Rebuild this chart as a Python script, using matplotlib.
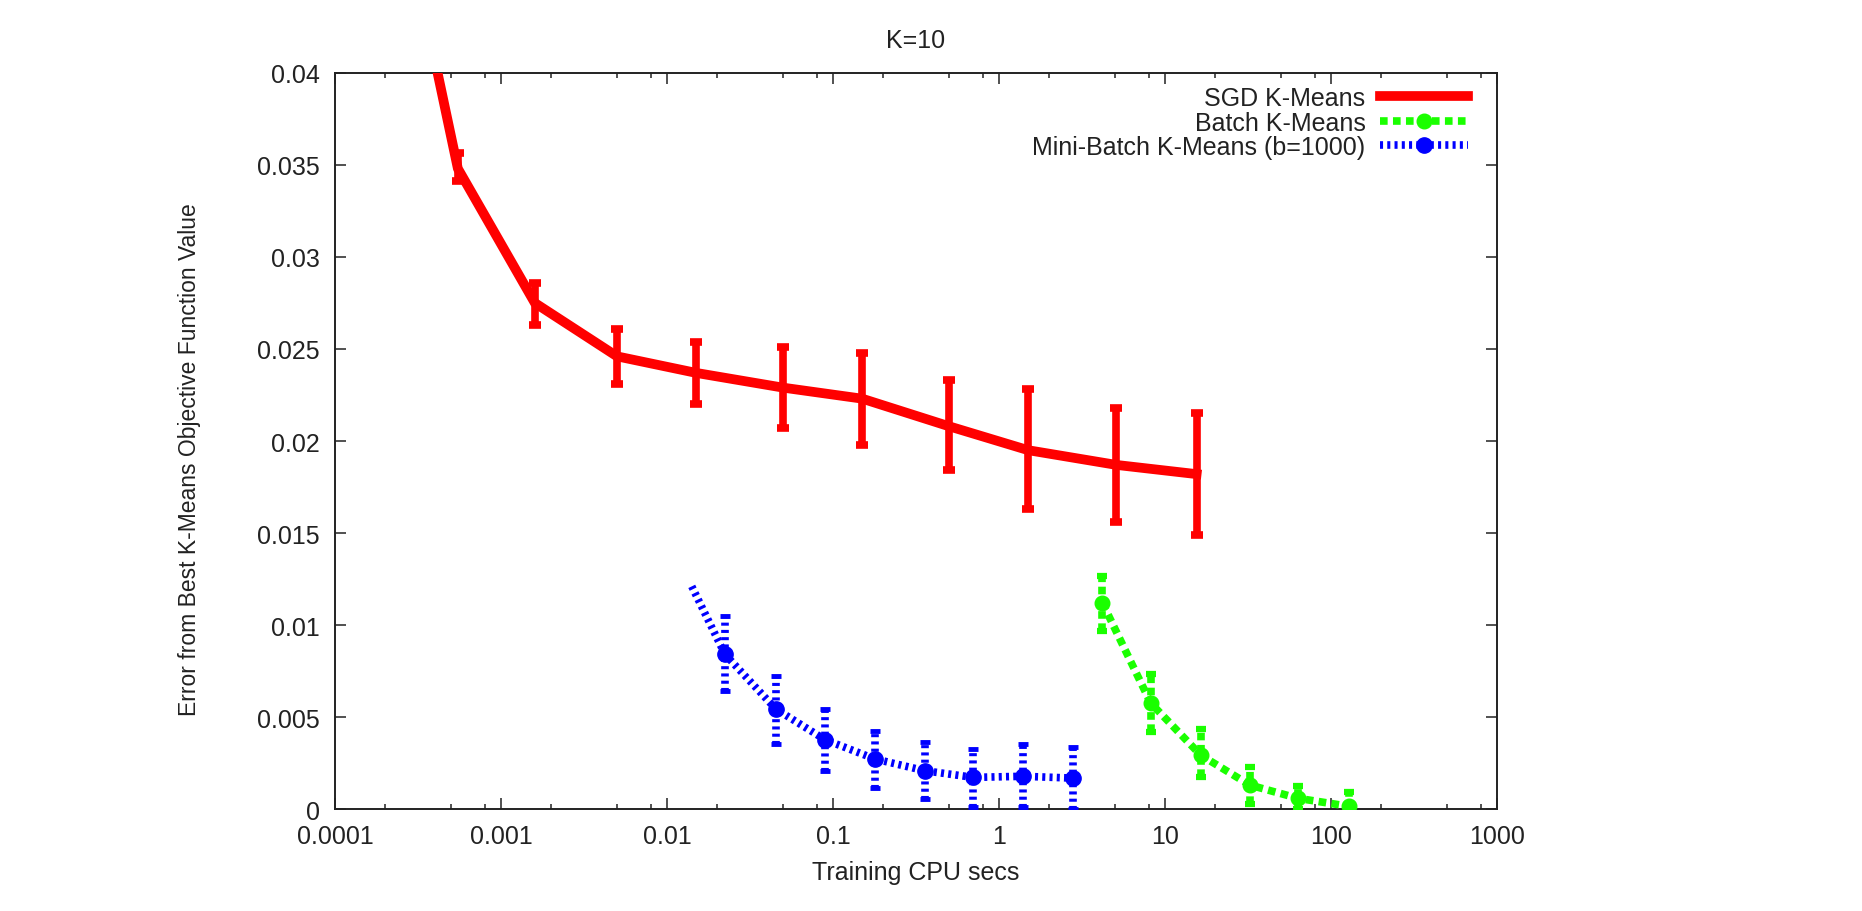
import numpy as np
from matplotlib import pyplot as plt
from matplotlib.ticker import LogLocator, FixedLocator, FuncFormatter, NullFormatter

plt.rcParams['font.family'] = ['Liberation Sans', 'DejaVu Sans']

# SGD K-Means (first point lies above the visible range)
sgd_x = [0.00017, 0.00055, 0.0016, 0.005, 0.015, 0.05, 0.15, 0.5, 1.5, 5.1, 15.5]
sgd_y = [0.0565, 0.0348, 0.0275, 0.0246, 0.0237, 0.0229, 0.0223, 0.0208, 0.0195, 0.0187, 0.0182]
sgd_lo = [0.0007, 0.00065, 0.0012, 0.0015, 0.0017, 0.0022, 0.0025, 0.0024, 0.0032, 0.0031, 0.0033]
sgd_hi = [0.0007, 0.00085, 0.0011, 0.0015, 0.0017, 0.0022, 0.0025, 0.0025, 0.0033, 0.0031, 0.0033]

# Batch K-Means
batch_x = [4.2, 8.2, 16.4, 32.5, 63.5, 128]
batch_y = [0.0112, 0.00576, 0.00293, 0.0013, 0.00058, 0.00015]
batch_lo = [0.0015, 0.0016, 0.0012, 0.001, 0.00058, 0.00015]
batch_hi = [0.00145, 0.00158, 0.00142, 0.00096, 0.00069, 0.00076]

# Mini-Batch K-Means (b=1000); line starts at the first entry, no marker there
mb_x = [0.0141, 0.0223, 0.0452, 0.0895, 0.179, 0.358, 0.70, 1.40, 2.80]
mb_y = [0.0121, 0.00842, 0.00544, 0.00377, 0.00272, 0.00208, 0.00172, 0.00178, 0.00168]
mb_lo = [0, 0.00199, 0.00191, 0.00169, 0.0016, 0.00154, 0.00162, 0.00168, 0.00168]
mb_hi = [0, 0.00209, 0.00177, 0.00167, 0.00154, 0.00158, 0.00154, 0.00175, 0.00167]

x_ticks = [0.0001, 0.001, 0.01, 0.1, 1, 10, 100, 1000]
x_labels = ['0.0001', '0.001', '0.01', '0.1', '1', '10', '100', '1000']
y_ticks = [0, 0.005, 0.01, 0.015, 0.02, 0.025, 0.03, 0.035, 0.04]
y_labels = ['0', '0.005', '0.01', '0.015', '0.02', '0.025', '0.03', '0.035', '0.04']

TEXT = '#222222'
FS = 18

fig = plt.figure(figsize=(18.62, 9.12), dpi=100)
ax = fig.add_axes([0.1799, 0.1118, 0.6241, 0.8071])

# SGD
sgd = ax.errorbar(sgd_x, sgd_y, yerr=[sgd_lo, sgd_hi], color='#ff0000', lw=7,
                  elinewidth=5.5, capsize=4.2, capthick=5.5, label='SGD K-Means',
                  solid_joinstyle='round', zorder=3)

# Batch
green = '#1aff00'
batch = ax.errorbar(batch_x, batch_y, yerr=[batch_lo, batch_hi], color=green, lw=5.5,
                    ls=(0, (1.0, 0.7)), marker='o', ms=10.5, elinewidth=5.5,
                    capsize=3.5, capthick=4.5, label='Batch K-Means', zorder=3)
batch[2][0].set_linestyle((0, (1.0, 0.6)))

# Mini-batch
blue = '#0000ff'
ax.plot(mb_x[:2], mb_y[:2], color=blue, lw=5.5, ls=(0, (0.4, 0.55)),
        dash_capstyle='butt', zorder=3)
mb = ax.errorbar(mb_x[1:], mb_y[1:], yerr=[mb_lo[1:], mb_hi[1:]], color=blue, lw=5.5,
                 ls=(0, (0.4, 0.55)), marker='o', ms=11, elinewidth=5.5,
                 capsize=3.5, capthick=3.5, label='Mini-Batch K-Means (b=1000)', zorder=3)
mb[2][0].set_linestyle((0, (0.4, 0.55)))

ax.set_xscale('log')
ax.set_xlim(0.0001, 1000)
ax.set_ylim(0, 0.04)
ax.xaxis.set_major_locator(FixedLocator(x_ticks))
ax.xaxis.set_major_formatter(FuncFormatter(lambda v, p: x_labels[x_ticks.index(v)] if v in x_ticks else ''))
ax.xaxis.set_minor_locator(LogLocator(base=10, subs=(2, 5, 8)))
ax.xaxis.set_minor_formatter(NullFormatter())
ax.yaxis.set_major_locator(FixedLocator(y_ticks))
ax.set_yticklabels(y_labels)

ax.tick_params(which='both', direction='in', top=True, right=True, colors=TEXT,
               labelsize=FS, width=1.1)
ax.tick_params(which='major', length=8)
ax.tick_params(which='minor', length=3.6)
ax.tick_params(axis='x', pad=11)
ax.tick_params(axis='y', pad=11)
for s in ax.spines.values():
    s.set_linewidth(1.4)
    s.set_color(TEXT)

ax.set_title('K=10', fontsize=FS, color=TEXT, pad=19)
ax.set_xlabel('Training CPU secs', fontsize=FS, color=TEXT, va='center')
ax.set_ylabel('Error from Best K-Means Objective Function Value', fontsize=16.5,
              color=TEXT, va='center')
ax.xaxis.set_label_coords(0.5, -0.0856)
ax.yaxis.set_label_coords(-0.1248, 0.4755)

leg = ax.legend(handles=[sgd[0], batch[0], mb[0]],
                labels=['SGD K-Means', 'Batch K-Means', 'Mini-Batch K-Means (b=1000)'],
                loc='upper right', bbox_to_anchor=(0.975, 0.982), frameon=False,
                markerfirst=False, fontsize=FS, handlelength=3.5, labelspacing=0.02,
                handletextpad=0.6, borderpad=0, borderaxespad=0, numpoints=1)
for t in leg.get_texts():
    t.set_color(TEXT)

fig.savefig('out.png', dpi=100)
